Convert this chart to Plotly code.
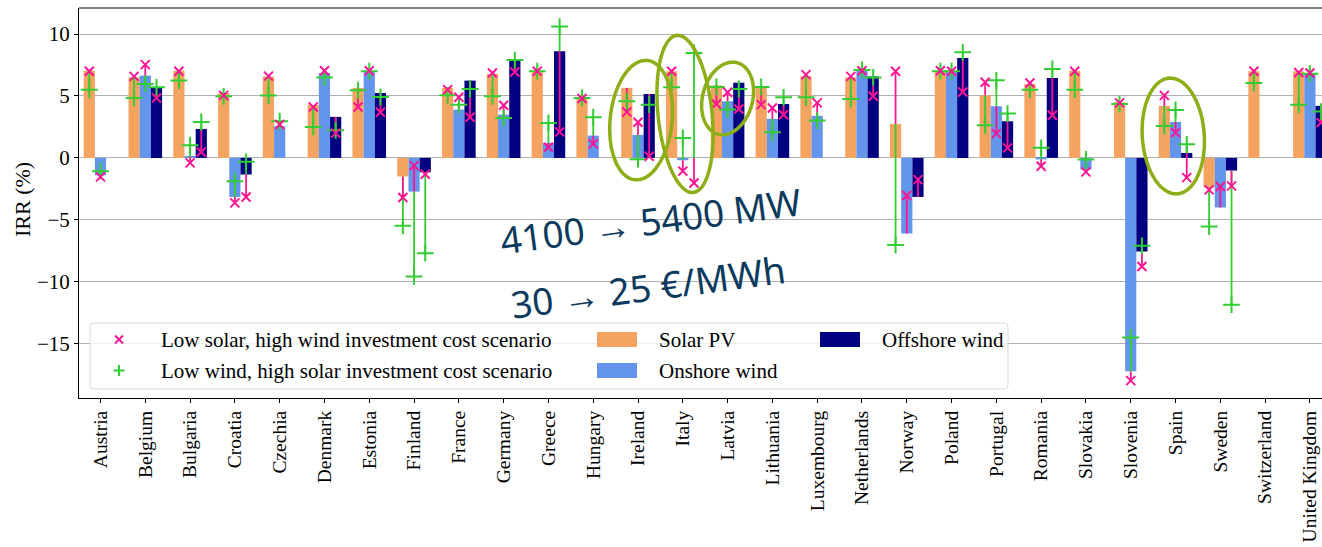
import math
import plotly.graph_objects as go

# ---------------------------------------------------------------- data
countries = [
    "Austria", "Belgium", "Bulgaria", "Croatia", "Czechia", "Denmark", "Estonia",
    "Finland", "France", "Germany", "Greece", "Hungary", "Ireland", "Italy",
    "Latvia", "Lithuania", "Luxembourg", "Netherlands", "Norway", "Poland",
    "Portugal", "Romania", "Slovakia", "Slovenia", "Spain", "Sweden",
    "Switzerland", "United Kingdom",
]

# reference IRR (%) per technology
solar_pv = [7.04, 6.5, 7.04, 5.24, 6.58, 4.27, 5.65, -1.5, 5.65, 6.8, 7.0, 4.84, 5.65, 7.0,
            5.86, 5.78, 6.58, 6.5, 2.74, 7.04, 5.05, 5.97, 7.04, 4.5, 4.2, -2.39, 7.0, 7.0]
onshore_wind = [-1.4, 6.64, 0.08, -3.15, 2.55, 6.85, 7.04, -2.72, 3.9, 3.49, 1.21, 1.8, 1.85, -0.19,
                4.57, 3.15, 3.39, 7.04, -6.1, 7.0, 4.17, -0.12, -0.94, -17.23, 2.9, -4.0, None, 6.8]
offshore_wind = [None, 5.65, 2.34, -1.34, None, 3.31, 5.24, -1.16, 6.24, 7.93, 8.6, None, 5.16, 0.0,
                 6.07, 4.35, None, 6.58, -3.15, 8.06, 2.96, 6.45, None, -7.55, 0.4, -1.02, None, 4.2]

# low solar, high wind investment cost scenario
lshw_solar = [7.0, 6.58, 7.0, 5.05, 6.6, 4.11, 4.11, -3.2, 5.51, 6.85, 7.0, 4.8, 3.71, 7.0,
              4.35, 4.3, 6.72, 6.58, 6.99, 7.04, 6.1, 6.05, 7.0, 4.44, 5.05, -2.58, 7.0, 6.9]
lshw_onshore = [-1.53, 7.53, -0.4, -3.63, 2.69, 7.04, 7.04, -0.62, 4.89, 4.25, 0.86, 1.13, 2.88, -1.07,
                5.3, 4.03, 4.44, 7.04, -3.04, 7.0, 1.96, -0.67, -1.13, -17.98, 2.04, -2.31, None, 6.85]
lshw_offshore = [None, 4.84, 0.48, -3.15, None, 2.0, 3.68, -1.32, 3.28, 6.94, 2.1, None, 0.13, -2.02,
                 3.95, 3.49, None, 4.97, -1.75, 5.32, 0.81, 3.44, None, -8.76, -1.59, -2.26, None, 2.85]

# low wind, high solar investment cost scenario
lwhs_solar = [5.5, 4.84, 6.24, 4.97, 5.03, 2.5, 5.46, -5.48, 5.05, 4.97, 7.0, 4.84, 4.57, 5.7,
              5.73, 5.73, 4.89, 4.76, -7.04, 7.0, 2.63, 5.51, 5.51, 4.35, 2.58, -5.54, 6.05, 4.3]
lwhs_onshore = [-1.07, 5.97, 1.02, -1.88, 2.96, 6.5, 7.0, -9.57, 4.3, 3.23, 2.82, 3.28, -0.1, 1.61,
                3.9, 2.07, 3.01, 7.1, None, 7.0, 6.26, 0.81, -0.13, -14.49, 3.87, None, None, 6.8]
lwhs_offshore = [None, 5.7, 2.9, -0.32, None, 2.23, 4.92, -7.69, 5.56, 7.9, 10.6, None, 4.3, 8.47,
                 5.56, 4.89, None, 6.5, None, 8.52, 3.58, 7.18, None, -7.1, 1.1, -11.85, None, 3.74]

y_ticks = [-15, -10, -5, 0, 5, 10]

# ---------------------------------------------------------------- style
SOLAR_C = "#F4A460"
ONSHORE_C = "#6495ED"
OFFSHORE_C = "#000080"
PINK = "#FF1493"
GREEN = "#32CD32"
NOTE_C = "#0C3A5D"
RING_C = "#8DAE17"
SERIF = "Liberation Serif, Times New Roman, serif"

W, H = 1322, 547
ML, MT, MB = 79, 8, 149
PW, PH = W - ML, H - MT - MB
X_RANGE = [-0.48, 27.27]
Y_RANGE = [-19.38, 12.1]
BAR_W = 0.25
OFFSETS = {"solar": -0.25, "onshore": 0.0, "offshore": 0.25}

idx = list(range(len(countries)))
px_per_x = PW / (X_RANGE[1] - X_RANGE[0])
px_per_y = PH / (Y_RANGE[1] - Y_RANGE[0])


def pos(offset):
    return [i + offset for i in idx]


def segments(xs, base, scen):
    sx, sy = [], []
    for x, b, s in zip(xs, base, scen):
        if b is None or s is None:
            continue
        sx += [x, x, None]
        sy += [b, s, None]
    return sx, sy


def points(xs, scen):
    px, py = [], []
    for x, s in zip(xs, scen):
        if s is not None:
            px.append(x)
            py.append(s)
    return px, py


def paper_x(p):
    return (p - ML) / PW


def paper_y(p):
    return (MT + PH - p) / PH


fig = go.Figure()

techs = [
    ("solar", "Solar PV", solar_pv, SOLAR_C, lshw_solar, lwhs_solar),
    ("onshore", "Onshore wind", onshore_wind, ONSHORE_C, lshw_onshore, lwhs_onshore),
    ("offshore", "Offshore wind", offshore_wind, OFFSHORE_C, lshw_offshore, lwhs_offshore),
]

for key, name, vals, col, _, _ in techs:
    fig.add_trace(go.Bar(x=pos(OFFSETS[key]), y=vals, width=BAR_W, name=name,
                         marker=dict(color=col, line=dict(width=0)), showlegend=False))

# connector lines: green first, pink on top
for key, name, vals, col, lshw, lwhs in techs:
    gx, gy = segments(pos(OFFSETS[key]), vals, lwhs)
    fig.add_trace(go.Scatter(x=gx, y=gy, mode="lines", line=dict(color=GREEN, width=1.8),
                             showlegend=False, hoverinfo="skip"))
for key, name, vals, col, lshw, lwhs in techs:
    rx, ry = segments(pos(OFFSETS[key]), vals, lshw)
    fig.add_trace(go.Scatter(x=rx, y=ry, mode="lines", line=dict(color=PINK, width=1.8),
                             showlegend=False, hoverinfo="skip"))

for key, name, vals, col, lshw, lwhs in techs:
    gx, gy = points(pos(OFFSETS[key]), lwhs)
    fig.add_trace(go.Scatter(x=gx, y=gy, mode="markers", showlegend=False,
                             marker=dict(symbol="cross-thin", size=12, color=GREEN,
                                         line=dict(color=GREEN, width=2))))
for key, name, vals, col, lshw, lwhs in techs:
    rx, ry = points(pos(OFFSETS[key]), lshw)
    fig.add_trace(go.Scatter(x=rx, y=ry, mode="markers", showlegend=False,
                             marker=dict(symbol="x-thin", size=9, color=PINK,
                                         line=dict(color=PINK, width=2))))

shapes = []


def ellipse(cx, cy, rx_px, ry_px, tilt_deg, n=80):
    t = math.radians(tilt_deg)
    pts = []
    for k in range(n + 1):
        a = 2 * math.pi * k / n
        ex, ey = rx_px * math.cos(a), ry_px * math.sin(a)
        dx = ex * math.cos(t) - ey * math.sin(t)
        dy = ex * math.sin(t) + ey * math.cos(t)
        pts.append((cx + dx / px_per_x, cy + dy / px_per_y))
    path = "M " + " L ".join(f"{x:.4f},{y:.4f}" for x, y in pts) + " Z"
    return dict(type="path", path=path, xref="x", yref="y",
                line=dict(color=RING_C, width=3.5), layer="above")


# highlighted countries
shapes.append(ellipse(12.07, 3.05, 31, 60, -6))
shapes.append(ellipse(13.05, 3.55, 27, 79, 6))
shapes.append(ellipse(14.0, 4.8, 25, 37, -15))
shapes.append(ellipse(23.95, 1.77, 31, 58, 4))

# top spine
shapes.append(dict(type="line", xref="paper", yref="paper", x0=0, x1=1, y0=1, y1=1,
                   line=dict(color="black", width=1)))

# legend frame with rounded corners
lx0, lx1, ly0, ly1 = paper_x(90), paper_x(1008), paper_y(389), paper_y(323)
rxp, ryp = 4 / PW, 4 / PH
frame = (f"M {lx0 + rxp},{ly0} L {lx1 - rxp},{ly0} Q {lx1},{ly0} {lx1},{ly0 + ryp} "
         f"L {lx1},{ly1 - ryp} Q {lx1},{ly1} {lx1 - rxp},{ly1} "
         f"L {lx0 + rxp},{ly1} Q {lx0},{ly1} {lx0},{ly1 - ryp} "
         f"L {lx0},{ly0 + ryp} Q {lx0},{ly0} {lx0 + rxp},{ly0} Z")
shapes.append(dict(type="path", path=frame, xref="paper", yref="paper",
                   fillcolor="rgba(255,255,255,0.8)", line=dict(color="#D9D9D9", width=1),
                   layer="above"))


def glyph_lines(cx, cy, kind, color):
    out = []
    if kind == "x":
        s = 4
        segs = [(-s, -s, s, s), (-s, s, s, -s)]
    else:
        s = 5.5
        segs = [(-s, 0, s, 0), (0, -s, 0, s)]
    for a, b, c, d in segs:
        out.append(dict(type="line", xref="paper", yref="paper",
                        x0=paper_x(cx + a), y0=paper_y(cy + b),
                        x1=paper_x(cx + c), y1=paper_y(cy + d),
                        line=dict(color=color, width=2), layer="above"))
    return out


shapes += glyph_lines(119, 339.5, "x", PINK)
shapes += glyph_lines(119, 370.5, "+", GREEN)


def swatch(x0, y0, x1, y1, color):
    return dict(type="rect", xref="paper", yref="paper",
                x0=paper_x(x0), x1=paper_x(x1), y0=paper_y(y1), y1=paper_y(y0),
                fillcolor=color, line=dict(width=0), layer="above")


shapes.append(swatch(597, 332, 637, 347, SOLAR_C))
shapes.append(swatch(597, 363, 637, 378, ONSHORE_C))
shapes.append(swatch(820, 332, 860, 347, OFFSHORE_C))

annotations = []
legend_font = dict(family=SERIF, size=21, color="black")
for text, x, y in [
    ("Low solar, high wind investment cost scenario", 159, 339.5),
    ("Low wind, high solar investment cost scenario", 159, 370.5),
    ("Solar PV", 657, 339.5),
    ("Onshore wind", 657, 370.5),
    ("Offshore wind", 880, 339.5),
]:
    annotations.append(dict(text=text, x=paper_x(x), y=paper_y(y), xref="paper", yref="paper",
                            xanchor="left", yanchor="middle", showarrow=False, font=legend_font))

# y-axis title
annotations.append(dict(text="IRR (%)", x=paper_x(22), y=paper_y(200), xref="paper", yref="paper",
                        textangle=-90, showarrow=False, xanchor="center", yanchor="middle",
                        font=dict(family=SERIF, size=22, color="black")))

# handwritten notes
note_font = dict(family="Noto Sans, Roboto, sans-serif", size=37, color=NOTE_C)
annotations.append(dict(text="4100 → 5400 MW", x=12.27, y=-5.05, xref="x", yref="y",
                        textangle=-7.5, showarrow=False, font=note_font))
annotations.append(dict(text="30 → 25 €/MWh", x=12.22, y=-10.4, xref="x", yref="y",
                        textangle=-7.5, showarrow=False, font=note_font))

fig.update_layout(
    width=W, height=H,
    margin=dict(l=ML, r=0, t=MT, b=MB, pad=0, autoexpand=False),
    paper_bgcolor="white", plot_bgcolor="white",
    barmode="overlay",
    showlegend=False,
    shapes=shapes,
    annotations=annotations,
    xaxis=dict(range=X_RANGE, tickmode="array", tickvals=idx, ticktext=countries,
               tickangle=-90, ticks="outside", ticklen=4, tickcolor="black",
               showgrid=False, zeroline=False, showline=True, linecolor="black", linewidth=1,
               automargin=False,
               tickfont=dict(family=SERIF, size=19.5, color="black")),
    yaxis=dict(range=Y_RANGE, tickmode="array", tickvals=y_ticks,
               ticktext=[("\u2212" + str(-v)) if v < 0 else str(v) for v in y_ticks],
               ticks="outside", ticklen=4, tickcolor="black",
               showgrid=True, gridcolor="#B0B0B0", gridwidth=1, zeroline=False,
               showline=True, linecolor="black", linewidth=1, automargin=False,
               tickfont=dict(family=SERIF, size=21, color="black")),
)

fig.write_html("out.html")
